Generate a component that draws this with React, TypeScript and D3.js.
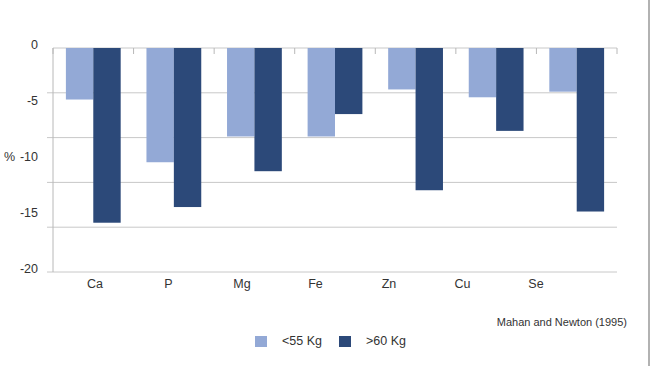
import React from "react";
import * as d3 from "d3";

const categories = ["Ca", "P", "Mg", "Fe", "Zn", "Cu", "Se"];
const seriesNames = ["<55 Kg", ">60 Kg"];
const lightValues = [-4.6, -10.2, -7.9, -7.9, -3.7, -4.4, -3.9];
const darkValues = [-15.6, -14.2, -11.0, -5.9, -12.7, -7.4, -14.6];
const yLabelTicks = [0, -5, -10, -15, -20];
const gridTicks = [0, -4, -8, -12, -16, -20];
const colors = ["#93a9d6", "#2c4979"];
const source = "Mahan and Newton (1995)";

export default function App() {
  const W = 650, H = 366;
  const left = 53, right = 617, top = 48, bottom = 272;
  const x = d3.scaleBand<string>().domain(categories).range([left, right]).paddingInner(0.32).paddingOuter(0.16);
  const xs = d3.scaleBand<string>().domain(seriesNames).range([0, x.bandwidth()]).padding(0);
  const y = d3.scaleLinear().domain([0, -20]).range([top, bottom]);
  const xLabel = d3.scalePoint<string>().domain(categories).range([95, 536]);
  const step = x.step();
  const boundaries = d3.range(categories.length + 1).map((i) => left + i * step);
  const series = [lightValues, darkValues];
  const font = "Arial, 'Liberation Sans', sans-serif";

  return (
    <svg width={W} height={H} style={{ position: "absolute", left: 0, top: 0 }} fontFamily={font}>
      <rect x={0} y={0} width={W} height={H} fill="#fff" />
      <line x1={649} x2={649} y1={0} y2={H} stroke="#999" strokeWidth={1.5} />
      {gridTicks.map((t) => (
        <line key={t} x1={t === 0 ? left : 47} x2={right} y1={y(t)} y2={y(t)} stroke="#c8c8c8" strokeWidth={1} />
      ))}
      <line x1={left} x2={left} y1={top} y2={bottom} stroke="#b8b8b8" />
      {boundaries.map((b, i) => (
        <line key={i} x1={b} x2={b} y1={top} y2={top + 6} stroke="#b8b8b8" />
      ))}
      {categories.map((c, i) =>
        series.map((vals, s) => {
          const v = vals[i];
          return (
            <rect
              key={c + s}
              x={(x(c) as number) + (xs(seriesNames[s]) as number)}
              y={y(0)}
              width={xs.bandwidth()}
              height={y(v) - y(0)}
              fill={colors[s]}
            />
          );
        })
      )}
      {yLabelTicks.map((t) => (
        <text key={t} x={38} y={y(t) - 2} textAnchor="end" dominantBaseline="middle" fontSize={12.5} fill="#333">
          {t}
        </text>
      ))}
      <text x={4} y={158} dominantBaseline="middle" fontSize={12.5} fill="#333">%</text>
      {categories.map((c) => (
        <text key={c} x={xLabel(c)} y={285} textAnchor="middle" dominantBaseline="middle" fontSize={12.5} fill="#333">
          {c}
        </text>
      ))}
      <text x={627} y={323} textAnchor="end" dominantBaseline="middle" fontSize={11} fill="#333">{source}</text>
      {seriesNames.map((n, i) => {
        const lx = 255 + i * 84;
        return (
          <g key={n}>
            <rect x={lx} y={336} width={12} height={11} fill={colors[i]} />
            <text x={lx + 27} y={342} dominantBaseline="middle" fontSize={12.5} fill="#333">{n}</text>
          </g>
        );
      })}
    </svg>
  );
}
